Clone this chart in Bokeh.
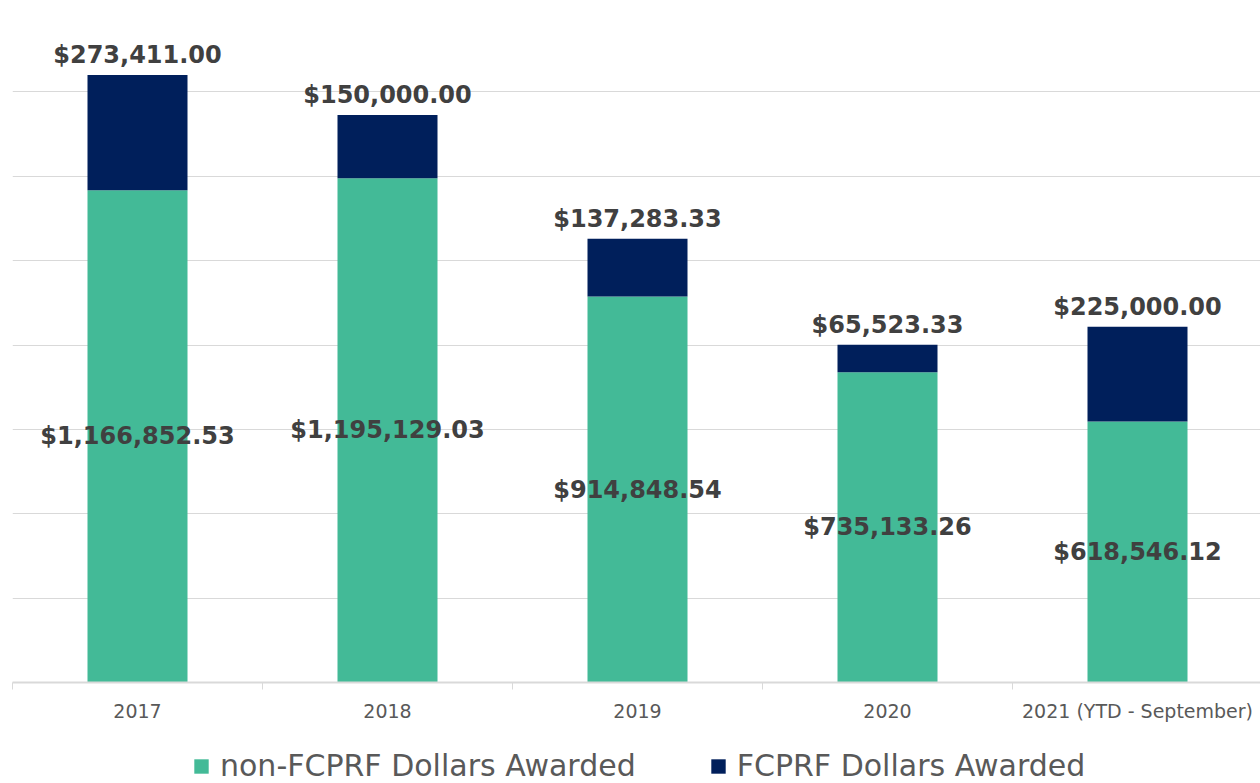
from bokeh.plotting import figure
from bokeh.layouts import column
from bokeh.models import ColumnDataSource, FixedTicker, Legend, LegendItem
from bokeh.core.properties import value
from bokeh.embed import file_html
from bokeh.resources import INLINE

categories = ["2017", "2018", "2019", "2020", "2021 (YTD - September)"]
non_fcprf = [1166852.53, 1195129.03, 914848.54, 735133.26, 618546.12]
fcprf = [273411.00, 150000.00, 137283.33, 65523.33, 225000.00]
series_names = ["non-FCPRF Dollars Awarded", "FCPRF Dollars Awarded"]
colors = ["#43BA97", "#001F5B"]

xs = list(range(len(categories)))
totals = [a + b for a, b in zip(non_fcprf, fcprf)]
src = ColumnDataSource(dict(
    x=xs,
    g=non_fcprf,
    b=fcprf,
    gmid=[v / 2 for v in non_fcprf],
    top=totals,
    glab=["${:,.2f}".format(v) for v in non_fcprf],
    blab=["${:,.2f}".format(v) for v in fcprf],
))

p = figure(frame_width=1248, frame_height=675, output_backend="svg", toolbar_location=None,
           x_range=(-0.5, 4.492), y_range=(0, 1600000),
           min_border_left=12, min_border_right=0, min_border_top=7, min_border_bottom=0)
p.outline_line_color = None

rs = p.vbar_stack(["g", "b"], x="x", width=0.4, color=colors, line_color=None, source=src)

p.text(x="x", y="gmid", text="glab", source=src, text_align="center", text_baseline="middle",
       text_font=value("DejaVu Sans"), text_font_style="bold", text_font_size="24px", text_color="#404040")
p.text(x="x", y="top", text="blab", source=src, text_align="center", text_baseline="bottom",
       y_offset=-6,
       text_font=value("DejaVu Sans"), text_font_style="bold", text_font_size="24px", text_color="#404040")

p.yaxis.visible = False
p.ygrid.ticker = FixedTicker(ticks=[i * 200000 for i in range(9)])
p.ygrid.grid_line_color = "#D9D9D9"
p.ygrid.grid_line_width = 1
p.xgrid.visible = False

ax = p.xaxis[0]
ax.ticker = FixedTicker(ticks=xs, minor_ticks=[i - 0.5 for i in range(len(categories) + 1)])
ax.major_label_overrides = {i: c for i, c in enumerate(categories)}
ax.major_tick_line_color = None
ax.major_tick_out = 0
ax.major_tick_in = 0
ax.minor_tick_in = 0
ax.minor_tick_out = 7
ax.minor_tick_line_color = "#D9D9D9"
ax.axis_line_color = "#D9D9D9"
ax.axis_line_width = 2
ax.major_label_standoff = 10
ax.major_label_text_font = "DejaVu Sans"
ax.major_label_text_font_size = "19px"
ax.major_label_text_color = "#595959"

# legend strip (same series, hidden renderers, only their legend swatches show)
lg = figure(width=1260, height=62, output_backend="svg", toolbar_location=None,
            x_range=(0, 1), y_range=(0, 1), min_border=0)
lg.outline_line_color = None
lg.axis.visible = False
lg.grid.visible = False
lrs = lg.vbar_stack(["g", "b"], x="x", width=0.4, color=colors, line_color=None, source=src)
for r in lrs:
    r.visible = False
legend = Legend(items=[LegendItem(label=series_names[i], renderers=[lrs[i]]) for i in range(2)],
                orientation="horizontal", location=(180, 3))
legend.label_text_font = "DejaVu Sans"
legend.label_text_font_size = "30px"
legend.label_text_color = "#595959"
legend.glyph_width = 18
legend.glyph_height = 18
legend.label_standoff = 10
legend.spacing = 73
legend.padding = 0
legend.margin = 0
legend.border_line_color = None
legend.background_fill_alpha = 0
legend.inactive_fill_alpha = 0
legend.click_policy = "none"
lg.add_layout(legend)

layout = column(p, lg, spacing=0)
open("out.html", "w").write(file_html(layout, INLINE))
